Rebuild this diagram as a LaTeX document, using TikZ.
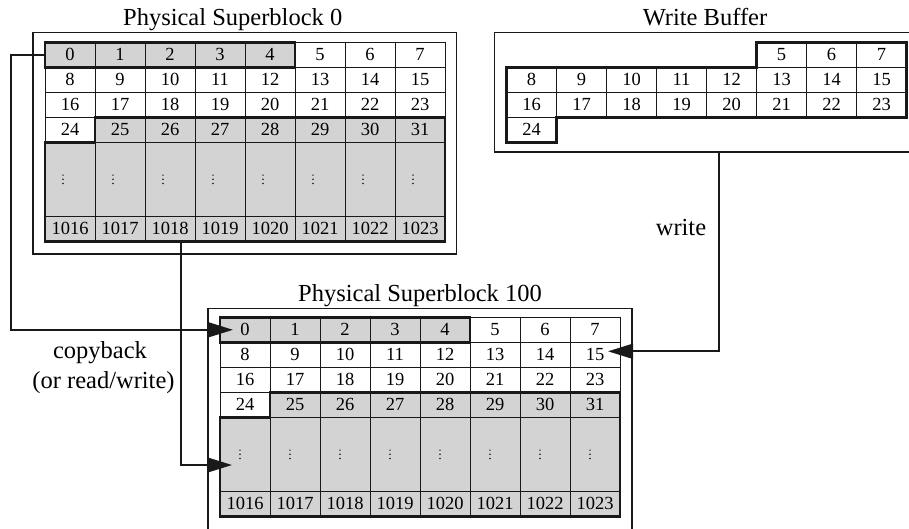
\documentclass[tikz,border=0pt]{standalone}
\usepackage{fontspec}
\setmainfont{Liberation Serif}
\usetikzlibrary{arrows.meta}
\definecolor{cellgrey}{RGB}{211,211,211}
\definecolor{ink}{RGB}{25,25,25}
\newcommand{\cellfont}{\fontsize{18.5}{18.5}\selectfont}
\newcommand{\labelfont}{\fontsize{24.5}{28}\selectfont}
\newcommand{\sblock}[4]{%
  \foreach \c in {0,...,7}{%
    \foreach \r in {0,...,3}{%
      \pgfmathtruncatemacro\n{8*\r+\c}%
      \pgfmathtruncatemacro\g{((\r==0)&&(\c<5))||((\r==3)&&(\c>0))}%
      \ifnum\g=1 \def\fc{cellgrey}\else\def\fc{white}\fi
      \node[cell,fill=\fc] (#1-\n) at ({#2+50*\c},{#3+25*\r}) {\n};
    }%
    \node[dotscell] (#1-d\c) at ({#2+50*\c},{#3+100}) {};
    \foreach \k in {-4.2,0,4.2}{%
      \fill[ink] ([xshift=-#4,yshift=\k pt]#1-d\c.center) circle (0.85pt);
    }%
    \pgfmathtruncatemacro\m{1016+\c}%
    \node[cell,fill=cellgrey] (#1-\m) at ({#2+50*\c},{#3+174}) {\m};
  }%
}
\begin{document}
\begin{tikzpicture}[x=1pt,y=-1pt,
  cell/.style={draw=ink, line width=0.9pt, minimum width=50pt, minimum height=25pt,
    inner sep=0pt, outer sep=0pt, anchor=north west, font=\cellfont},
  dotscell/.style={cell, fill=cellgrey, minimum height=74pt},
  frame/.style={draw=ink, line width=1.4pt},
  region/.style={draw=ink, line width=2.4pt, line join=miter},
  link/.style={draw=ink, line width=2pt, -{Triangle[length=25pt,width=15pt]}},
  title/.style={font=\labelfont, anchor=base, inner sep=0pt},
]
\useasboundingbox (0,0) rectangle (909,528);

% frames
\draw[frame] (33,32.7) rectangle (456.7,254);
\draw[frame] (912,32.7) -- (494.5,32.7) -- (494.5,152) -- (912,152);
\draw[frame] (208,531) -- (208,308.3) -- (632,308.3) -- (632,531);

% superblocks
\sblock{s0}{45}{42.3}{7pt}
\sblock{s1}{220}{317.3}{5pt}

% write buffer
\foreach \c in {5,6,7}{%
  \node[cell,fill=white] (w-\c) at ({506.5+50*\c},42.3) {\c};
}
\foreach \r in {1,2}{%
  \foreach \c in {0,...,7}{%
    \pgfmathtruncatemacro\n{8*\r+\c}%
    \node[cell,fill=white] (w-\n) at ({506.5+50*\c},{42.3+25*\r}) {\n};
  }
}
\node[cell,fill=white] (w-24) at (506.5,117.3) {24};

% thick outlines
\draw[region] (s0-0.north west) rectangle (s0-4.south east);
\draw[region] (s0-25.north west) -- (s0-31.north east) -- (s0-1023.south east)
  -- (s0-1016.south west) -- (s0-24.south west) -- (s0-24.south east) -- cycle;
\draw[region] (s1-0.north west) rectangle (s1-4.south east);
\draw[region] (s1-25.north west) -- (s1-31.north east) -- (s1-1023.south east)
  -- (s1-1016.south west) -- (s1-24.south west) -- (s1-24.south east) -- cycle;
\draw[region] (w-5.north west) -- (w-7.north east) -- (w-23.south east)
  -- (w-17.south west) -- (w-24.south east) -- (w-24.south west)
  -- (w-8.north west) -- (w-12.north east) -- cycle;

% titles and labels
\node[title] (t0) at (232.7,25.5) {Physical Superblock 0};
\node[title] (tw) at (705,25) {Write Buffer};
\node[title] (t1) at (420,301.7) {Physical Superblock 100};
\node[title] (lw) at (681,235) {write};
\node[title] (lc1) at (100,358.5) {copyback};
\node[title] (lc2) at (103.5,388.5) {(or read/write)};

% connectors
\coordinate (rail) at (11,0);
\coordinate (tipA) at ([xshift=13pt]s1-0.west);
\draw[link] (s0-0.west) -- (s0-0.west -| rail) |- (tipA);
\coordinate (startB) at ([xshift=11pt]s0-1018.south);
\coordinate (tipB) at ([xshift=12pt,yshift=-10.7pt]s1-d0.west);
\draw[link] (startB) |- (tipB);
\coordinate (wbbot) at (719,152);
\coordinate (tipC) at ([xshift=-12pt,yshift=3.5pt]s1-15.east);
\draw[link] (wbbot) |- (tipC);
\end{tikzpicture}
\end{document}
